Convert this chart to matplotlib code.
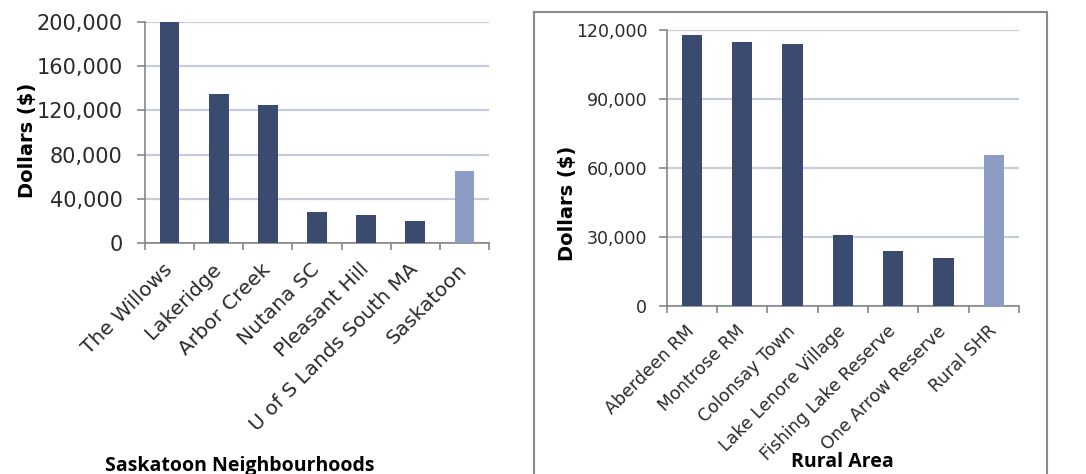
import numpy as np
import matplotlib
matplotlib.use("Agg")
import matplotlib.pyplot as plt
from matplotlib.patches import Rectangle
from matplotlib.ticker import FuncFormatter

# left chart - Saskatoon neighbourhoods
city_names = ['The Willows', 'Lakeridge', 'Arbor Creek', 'Nutana SC',
              'Pleasant Hill', 'U of S Lands South MA', 'Saskatoon']
city_vals = [200000, 135000, 125000, 28000, 25000, 20000, 65000]
city_ticks = [0, 40000, 80000, 120000, 160000, 200000]

# right chart - rural areas
rural_names = ['Aberdeen RM', 'Montrose RM', 'Colonsay Town', 'Lake Lenore Village',
               'Fishing Lake Reserve', 'One Arrow Reserve', 'Rural SHR']
rural_vals = [118000, 115000, 114000, 31000, 24000, 21000, 65700]
rural_ticks = [0, 30000, 60000, 90000, 120000]

dark = '#3b4a6f'
light = '#8c9cc4'
grid_col = '#c7ccda'
axis_col = '#868686'
text_col = '#2a2a2a'

fig = plt.figure(figsize=(10.86, 4.74), dpi=100)


def draw(ax, names, vals, ticks, tick_size, tick_pad, lab_size, lab_off,
         xlabel, xlab_x, xlab_y):
    x = np.arange(len(names))
    cols = [dark] * (len(names) - 1) + [light]
    ax.bar(x, vals, width=0.4, color=cols, zorder=3)
    ax.set_xlim(-0.5, len(names) - 0.5)
    ax.set_ylim(0, ticks[-1])
    ax.set_yticks(ticks)
    ax.yaxis.set_major_formatter(FuncFormatter(lambda v, p: f'{int(v):,}'))
    ax.tick_params(axis='y', labelsize=tick_size, length=6, width=1.2,
                   color=axis_col, pad=tick_pad, labelcolor=text_col)
    ax.set_xticks(np.arange(len(names) + 1) - 0.5)
    ax.set_xticklabels([])
    ax.tick_params(axis='x', length=5, width=1.2, color=axis_col)
    for i, name in enumerate(names):
        ax.annotate(name, (i, 0), xytext=(0, lab_off), textcoords='offset points',
                    xycoords='data', rotation=45, ha='right', va='center',
                    rotation_mode='anchor', fontsize=lab_size, color=text_col)
    ax.grid(axis='y', color=grid_col, linewidth=1.6, zorder=0)
    for s in ['top', 'right']:
        ax.spines[s].set_visible(False)
    for s in ['left', 'bottom']:
        ax.spines[s].set_color(axis_col)
        ax.spines[s].set_linewidth(1.2)
    ax.set_ylabel('Dollars ($)', fontsize=14, fontweight='bold', family='DejaVu Sans')
    fig.text(xlab_x, xlab_y, xlabel, ha='center', va='center', fontsize=14,
             fontweight='bold', family='Open Sans')


ax1 = fig.add_axes([0.1335, 0.4873, 0.3168, 0.4662])
draw(ax1, city_names, city_vals, city_ticks, 15, 10, 14.5, -17,
     'Saskatoon Neighbourhoods', 0.221, 0.017)
ax1.yaxis.set_label_coords(-0.315, 0.466)

ax2 = fig.add_axes([0.6139, 0.3544, 0.3244, 0.5816])
draw(ax2, rural_names, rural_vals, rural_ticks, 12.5, 8, 12.5, -16,
     'Rural Area', 0.776, 0.025)
ax2.yaxis.set_label_coords(-0.255, 0.374)

# border round the right chart
fig.patches.append(Rectangle((0.4917, -0.01), 0.4724, 0.9847, transform=fig.transFigure,
                             fill=False, edgecolor='#8a8a8a', linewidth=1.5))

fig.savefig('out.png', dpi=100)
